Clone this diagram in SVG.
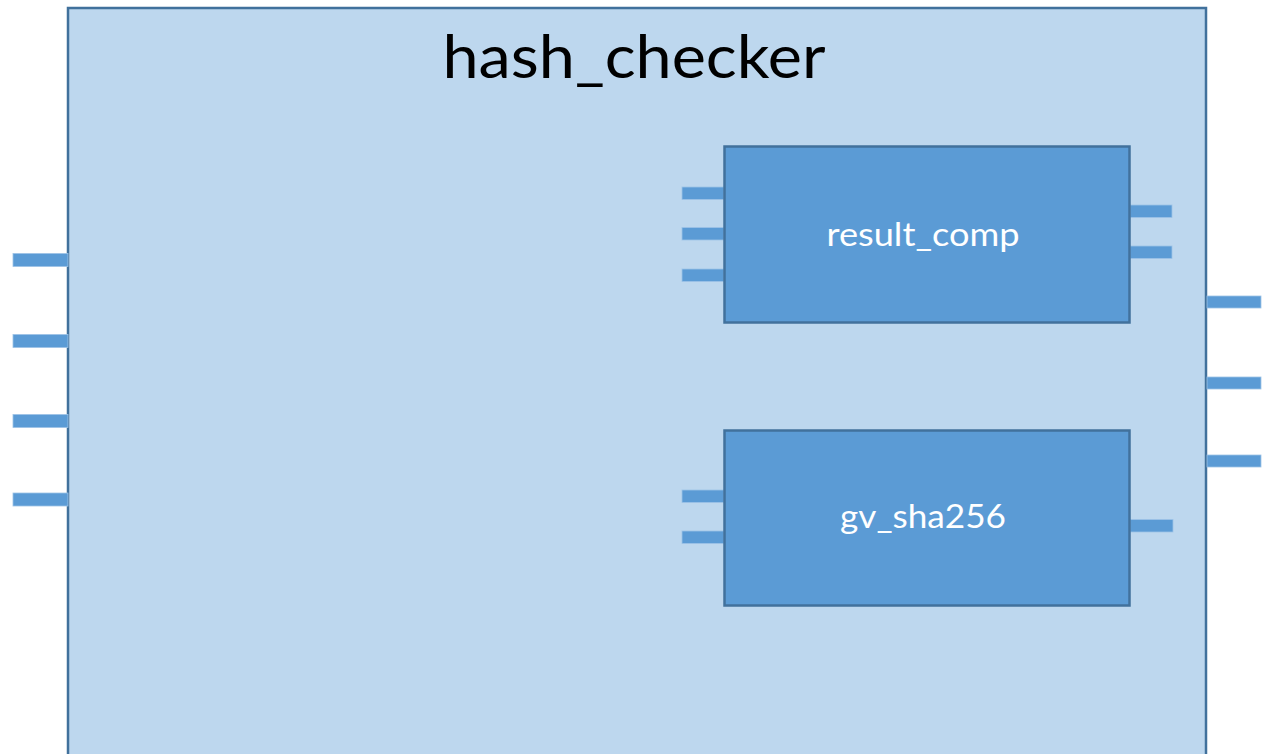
<svg xmlns="http://www.w3.org/2000/svg" width="1264" height="754" viewBox="0 0 1264 754">
  <style>
    .outer { fill: #bdd7ee; stroke: #41719c; stroke-width: 2.5; }
    .block { fill: #5b9bd5; stroke: #41719c; stroke-width: 2.5; }
    .pin { fill: #5b9bd5; stroke: #9dc3e6; stroke-width: 0.8; }
    .title { font-family: Lato, "Open Sans", sans-serif; font-size: 60px; fill: #000000; text-anchor: middle; }
    .label { font-family: Lato, "Open Sans", sans-serif; font-size: 32px; fill: #ffffff; text-anchor: middle; }
  </style>
  <rect x="0" y="0" width="1264" height="754" fill="#ffffff"/>
  <g id="hash_checker">
    <rect class="outer" x="68" y="8" width="1138" height="760"/>
    <text class="title" x="634" y="78" textLength="383" lengthAdjust="spacingAndGlyphs">hash_checker</text>
    <g id="hash_checker_ports">
      <rect class="pin" x="13" y="253.5" width="55" height="13"/>
      <rect class="pin" x="13" y="334.5" width="55" height="13"/>
      <rect class="pin" x="13" y="414.5" width="55" height="13"/>
      <rect class="pin" x="13" y="493" width="55" height="13"/>
      <rect class="pin" x="1207" y="296" width="54" height="12"/>
      <rect class="pin" x="1207" y="377" width="54" height="12"/>
      <rect class="pin" x="1207" y="455" width="54" height="12"/>
    </g>
  </g>
  <g id="result_comp">
    <rect class="pin" x="682" y="187" width="42" height="12.5"/>
    <rect class="pin" x="682" y="227.5" width="42" height="12.5"/>
    <rect class="pin" x="682" y="269" width="42" height="12.5"/>
    <rect class="pin" x="1130" y="205" width="42" height="12.5"/>
    <rect class="pin" x="1130" y="246" width="42" height="12.5"/>
    <rect class="block" x="724.5" y="146.5" width="405" height="176"/>
    <text class="label" x="923" y="246" textLength="193" lengthAdjust="spacingAndGlyphs">result_comp</text>
  </g>
  <g id="gv_sha256">
    <rect class="pin" x="682" y="490" width="42" height="12.5"/>
    <rect class="pin" x="682" y="531" width="42" height="12.5"/>
    <rect class="pin" x="1130" y="519.5" width="43" height="12.5"/>
    <rect class="block" x="724.5" y="430.5" width="405" height="175"/>
    <text class="label" x="923" y="528" textLength="166" lengthAdjust="spacingAndGlyphs">gv_sha256</text>
  </g>
  <g id="connectors"/>
</svg>
